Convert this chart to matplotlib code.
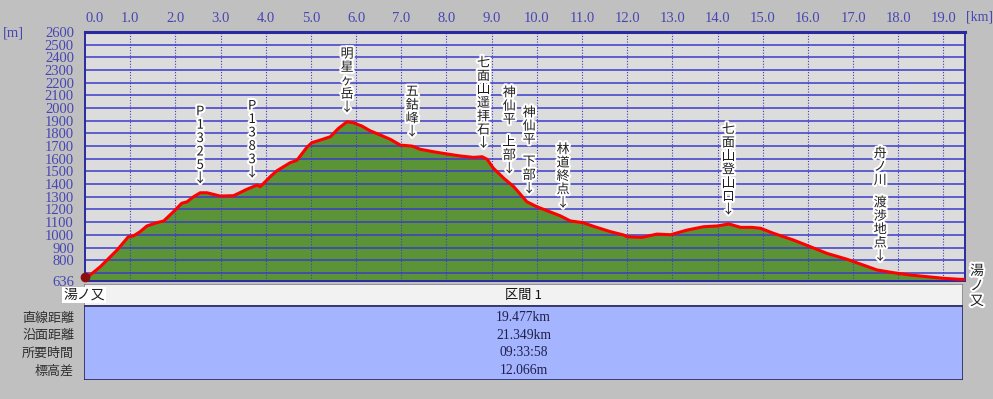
import numpy as np
import matplotlib
matplotlib.use("Agg")
import matplotlib.pyplot as plt
import matplotlib.patheffects as pe
from matplotlib.patches import Rectangle

# profile: distance [km] / elevation [m]
dist_km = [0.00, 0.34, 0.71, 0.96, 1.07, 1.22, 1.37, 1.59, 1.74, 1.96, 2.14, 2.26,
           2.40, 2.55, 2.70, 2.99, 3.29, 3.58, 3.81, 3.88, 4.10, 4.25, 4.54, 4.69,
           4.91, 5.02, 5.21, 5.43, 5.61, 5.80, 5.94, 6.13, 6.31, 6.54, 6.76, 6.98,
           7.24, 7.42, 7.72, 8.01, 8.31, 8.60, 8.79, 8.90, 9.04, 9.27, 9.49, 9.78,
           10.00, 10.23, 10.52, 10.74, 11.02, 11.30, 11.63, 11.92, 12.00, 12.33,
           12.66, 12.96, 13.33, 13.69, 13.99, 14.25, 14.51, 14.76, 14.95, 15.24,
           15.68, 16.05, 16.42, 16.87, 17.16, 17.53, 17.90, 18.27, 18.64, 19.01,
           19.38, 19.477]
elev_m = [650, 749, 880, 985, 991, 1025, 1070, 1096, 1109, 1183, 1249, 1261,
          1300, 1332, 1332, 1306, 1309, 1359, 1393, 1380, 1459, 1506, 1569, 1588,
          1690, 1727, 1748, 1774, 1840, 1892, 1884, 1858, 1821, 1787, 1753, 1708,
          1700, 1675, 1655, 1638, 1622, 1611, 1616, 1596, 1525, 1446, 1380, 1261,
          1222, 1190, 1150, 1110, 1096, 1062, 1025, 999, 985, 980,
          1006, 1001, 1038, 1064, 1070, 1086, 1059, 1059, 1052, 1012,
          959, 907, 854, 807, 770, 723, 701, 683, 670, 657,
          649, 649]

# waypoints (label, km)
wp_names = ["P1325", "P1383", "明星ヶ岳", "五鈷峰", "七面山遥拝石", "神仙平 上部",
            "神仙平 下部", "林道終点", "七面山登山口", "舟ノ川 渡渉地点"]
wp_km = [2.55, 3.70, 5.80, 7.24, 8.82, 9.39, 9.83, 10.58, 14.24, 17.60]

x_ticks = [0.0, 1.0, 2.0, 3.0, 4.0, 5.0, 6.0, 7.0, 8.0, 9.0, 10.0, 11.0, 12.0,
           13.0, 14.0, 15.0, 16.0, 17.0, 18.0, 19.0]
y_ticks = [636, 800, 900, 1000, 1100, 1200, 1300, 1400, 1500, 1600, 1700, 1800,
           1900, 2000, 2100, 2200, 2300, 2400, 2500, 2600]
y_grid = list(range(700, 2600, 100))

start_name = "湯ノ又"
end_name = "湯ノ又"
section = "区間 1"
row_names = ["直線距離", "沿面距離", "所要時間", "標高差"]
row_values = ["19.477km", "21.349km", "09:33:58", "12.066m"]

W, H = 993, 399
BG = "#c0c0c0"
BLUE = "#3c3cc8"
TXTBLUE = "#4646b4"
JP = ["Noto Sans CJK JP", "DejaVu Sans"]
SERIF = ["Liberation Serif", "DejaVu Serif"]


def px_rect(x0, y0, x1, y1):
    return [x0 / W, 1 - y1 / H, (x1 - x0) / W, (y1 - y0) / H]


fig = plt.figure(figsize=(W / 100, H / 100), dpi=100, facecolor=BG)
ax = fig.add_axes(px_rect(85, 32, 965, 281))
ax.set_facecolor("#dcdcdc")
ax.set_xlim(0, dist_km[-1])
ax.set_ylim(636, 2600)

ax.fill_between(dist_km, 636, elev_m, color="#5b9436", zorder=1, lw=0)
for g in y_grid:
    ax.axhline(g, color=BLUE, lw=1.1, zorder=2)
for t in x_ticks[1:]:
    ax.axvline(t, color=BLUE, lw=0.8, ls=(0, (1, 1.5)), zorder=2)
ax.plot(dist_km, elev_m, color="#ff0000", lw=2.2, zorder=3, solid_joinstyle="round")
ax.plot(dist_km[0], elev_m[0] + 15, marker="o", ms=6, color="#8a1010",
        zorder=4, clip_on=False)

for s in ax.spines.values():
    s.set_color("#2a2aa0")
    s.set_linewidth(1.4)
ax.spines["top"].set_linewidth(2.2)

ax.xaxis.tick_top()
ax.set_xticks(x_ticks)
ax.set_xticklabels(["%.1f" % t for t in x_ticks])
ax.set_yticks(y_ticks)
ax.set_yticklabels([str(t) for t in y_ticks])
ax.tick_params(length=0, colors=TXTBLUE, labelsize=10.5)
ax.tick_params(axis="x", pad=5)
ax.tick_params(axis="y", pad=8)
for lab in ax.get_xticklabels() + ax.get_yticklabels():
    lab.set_family(SERIF)
ax.get_xticklabels()[0].set_horizontalalignment("left")

fig.text(3 / W, 1 - 33 / H, "[m]", color=TXTBLUE, family=SERIF, fontsize=10.5,
         va="center", ha="left")
fig.text(966 / W, 1 - 17 / H, "[km]", color=TXTBLUE, family=SERIF, fontsize=10,
         va="center", ha="left")

# vertical waypoint labels
halo = [pe.withStroke(linewidth=3, foreground="white")]
pitch = 13.4
for name, km in zip(wp_names, wp_km):
    base = np.interp(km, dist_km, elev_m)
    chars = list(name) + ["↓"]
    off = 14
    for ch in reversed(chars):
        if ch == " ":
            off += 9
            continue
        ax.annotate(ch, xy=(km, base), xytext=(0, off), textcoords="offset pixels",
                    ha="center", va="center", fontsize=9.4, family=JP,
                    color="#202020", path_effects=halo, zorder=5)
        off += pitch

# right end label, vertical
for i, ch in enumerate(end_name):
    fig.text(977 / W, 1 - (271 + i * 15) / H, ch, ha="center", va="center",
             fontsize=10, family=JP, color="#202020", path_effects=halo)

# table below the profile
tab = fig.add_axes(px_rect(84, 284, 963, 380))
tab.set_xlim(0, 1)
tab.set_ylim(96, 0)
tab.axis("off")
tab.add_patch(Rectangle((0, 0), 1, 22, facecolor="#f2f2f2", edgecolor="#808080", lw=1.2))
tab.add_patch(Rectangle((0, 22), 1, 74, facecolor="#a4b4ff", edgecolor="#28285a", lw=1.2))
tab.text(0.5, 11, section, ha="center", va="center", fontsize=9.5, family=JP,
         color="#101010")
for i, v in enumerate(row_values):
    tab.text(0.5, 33.5 + i * 17.6, v, ha="center", va="center", fontsize=9.8,
             family=SERIF, color="#20204a")
for i, n in enumerate(row_names):
    fig.text(74 / W, 1 - (318 + i * 17.6) / H, n, ha="right", va="center",
             fontsize=9.4, family=JP, color="#303030")

fig.text(63 / W, 1 - 295 / H, start_name, ha="left", va="center", fontsize=10,
         family=JP, color="#202020",
         bbox=dict(boxstyle="square,pad=0.1", facecolor="white", edgecolor="none"))

fig.savefig("out.png", dpi=100, facecolor=BG)
